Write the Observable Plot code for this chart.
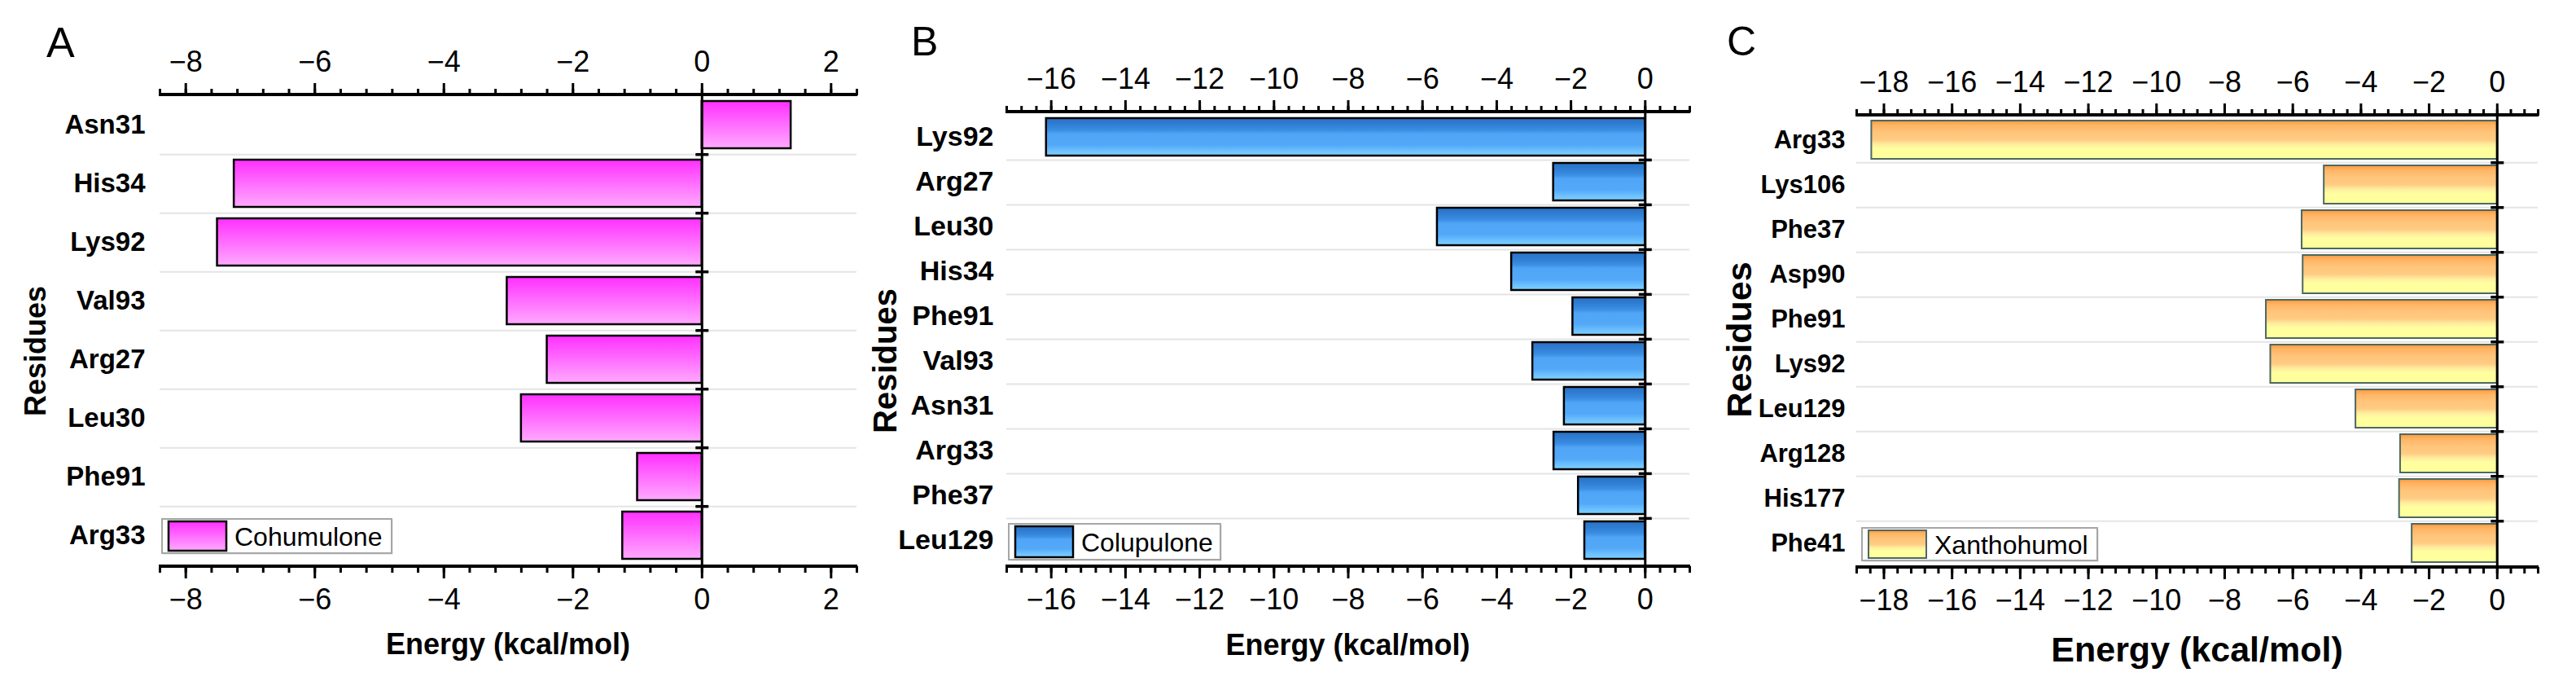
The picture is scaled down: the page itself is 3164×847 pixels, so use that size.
<!DOCTYPE html>
<html><head><meta charset="utf-8">
<script src="https://cdn.jsdelivr.net/npm/d3@7"></script>
<script src="https://cdn.jsdelivr.net/npm/@observablehq/plot@0.6"></script>
<style>
body{margin:0;background:#fff;}
#wrap{position:relative;width:3164px;height:847px;background:#fff;}
#wrap svg{position:absolute;top:0;overflow:visible;max-width:none;}
</style></head><body><div id="wrap"></div>
<script>
// ---- data ----
const residuesA = ["Asn31","His34","Lys92","Val93","Arg27","Leu30","Phe91","Arg33"];
const energyA   = [1.38,-7.25,-7.51,-3.02,-2.40,-2.80,-1.00,-1.23];
const residuesB = ["Lys92","Arg27","Leu30","His34","Phe91","Val93","Asn31","Arg33","Phe37","Leu129"];
const energyB   = [-16.13,-2.47,-5.60,-3.60,-1.95,-3.03,-2.18,-2.46,-1.80,-1.63];
const residuesC = ["Arg33","Lys106","Phe37","Asp90","Phe91","Lys92","Leu129","Arg128","His177","Phe41"];
const energyC   = [-18.36,-5.08,-5.73,-5.70,-6.78,-6.65,-4.15,-2.84,-2.87,-2.50];
const ticksA = [-8,-6,-4,-2,0,2];
const ticksB = [-16,-14,-12,-10,-8,-6,-4,-2,0];
const ticksC = [-18,-16,-14,-12,-10,-8,-6,-4,-2,0];
const domainA = [-8.4, 2.4];
const domainB = [-17.2, 1.2];
const domainC = [-18.8, 1.2];
const seriesNames = ["Cohumulone","Colupulone","Xanthohumol"];
const panelLetters = ["A","B","C"];
const xTitle = "Energy (kcal/mol)";
const yTitle = "Residues";

const NS = "http://www.w3.org/2000/svg";
const FONT = "'Liberation Sans', Arial, Helvetica, sans-serif";
function el(tag, attrs, text){
  const e = document.createElementNS(NS, tag);
  for (const k in attrs) e.setAttribute(k, attrs[k]);
  if (text != null) e.textContent = text;
  return e;
}
const hline = {draw(ctx, size){ const r = Math.sqrt(size/Math.PI); ctx.moveTo(-r,0); ctx.lineTo(r,0); }};

const panels = [
  {id:"gradA", residues:residuesA, energy:energyA, ticks:ticksA, domain:domainA, name:seriesNames[0], letter:panelLetters[0],
   left:0, width:1060, ml:196, mr:8, mt:116, mb:152, pad:0.19,
   stops:[[0,"#ff30ff"],[1,"#ffaaff"]], stroke:"#000", sw:2.5,
   tickFont:36, rowFont:33, xFont:36, yFont:36, letterFont:52,
   letterX:57, letterY:70, yX:43, yY:431, xDy:95, rowPad:18,
   legend:{dx:3, gap:16, w:282, h:42}},
  {id:"gradB", residues:residuesB, energy:energyB, ticks:ticksB, domain:domainB, name:seriesNames[1], letter:panelLetters[1],
   left:1060, width:1030, ml:176, mr:15, mt:137, mb:152, pad:0.16,
   stops:[[0,"#2a72c4"],[0.14,"#2e7bd0"],[0.32,"#3a8ee3"],[0.42,"#50a5f6"],[0.72,"#53a9f8"],[0.86,"#6abfff"],[1,"#80d0ff"]],
   stroke:"#000", sw:2.5,
   tickFont:36, rowFont:34, xFont:36, yFont:40, letterFont:50,
   letterX:59, letterY:68, yX:27, yY:443, xDy:96, rowPad:16,
   legend:{dx:3, gap:8, w:260, h:44}},
  {id:"gradC", residues:residuesC, energy:energyC, ticks:ticksC, domain:domainC, name:seriesNames[2], letter:panelLetters[2],
   left:2090, width:1074, ml:190, mr:47, mt:141, mb:151, pad:0.15,
   stops:[[0,"#ff983a"],[0.12,"#ffb464"],[0.3,"#ffc47a"],[0.5,"#ffcb82"],[0.62,"#ffeda0"],[0.74,"#ffff9e"],[1,"#ffff9c"]],
   stroke:"#4d6861", sw:2,
   tickFont:36, rowFont:31, xFont:43, yFont:43, letterFont:50,
   letterX:31, letterY:68, yX:46, yY:417, xDy:101, rowPad:14,
   legend:{dx:7, gap:8, w:289, h:40}}
];

function panel(cfg){
  const data = cfg.residues.map((r,i) => ({residue:r, energy:cfg.energy[i]}));
  const n = cfg.residues.length;
  const H = 847;
  const step = (H - cfg.mt - cfg.mb) / n;
  const inner = cfg.residues.slice(0, -1);
  const minor = d3.range(Math.round(cfg.domain[0]*10), Math.round(cfg.domain[1]*10)+1, 4).map(v => v/10);

  const defs = () => {
    const d = el("defs", {});
    const g = el("linearGradient", {id:cfg.id, x1:0, y1:0, x2:0, y2:1});
    for (const [o,c] of cfg.stops) g.appendChild(el("stop", {offset:o, "stop-color":c}));
    d.appendChild(g);
    return d;
  };
  const axisLines = (index, scales, values, dims) => {
    const g = el("g", {stroke:"#000", "stroke-width":4});
    const x1 = dims.marginLeft - 1, x2 = dims.width - dims.marginRight + 1;
    for (const y of [dims.marginTop, dims.height - dims.marginBottom])
      g.appendChild(el("line", {x1, x2, y1:y, y2:y}));
    return g;
  };
  const legend = (index, scales, values, dims) => {
    const L = cfg.legend;
    const g = el("g", {"text-anchor":"start"});
    const bx = dims.marginLeft + L.dx, by = dims.height - dims.marginBottom - L.gap - L.h;
    g.appendChild(el("rect", {x:bx+1.5, y:by+1.5, width:L.w, height:L.h, fill:"#d8d8d8"}));
    g.appendChild(el("rect", {x:bx, y:by, width:L.w, height:L.h, fill:"#fff", stroke:"#a6a6a6", "stroke-width":2}));
    g.appendChild(el("rect", {x:bx+8, y:by+3, width:71, height:L.h-6, fill:`url(#${cfg.id})`, stroke:cfg.stroke, "stroke-width":cfg.sw}));
    g.appendChild(el("text", {x:bx+89, y:by+L.h/2, dy:"0.36em", "text-anchor":"start", "font-size":32, "font-family":FONT, fill:"#000"}, cfg.name));
    return g;
  };
  const titles = (index, scales, values, dims) => {
    const g = el("g", {fill:"#000", "font-family":FONT});
    g.appendChild(el("text", {x:cfg.letterX, y:cfg.letterY, "text-anchor":"start", "font-size":cfg.letterFont}, cfg.letter));
    g.appendChild(el("text", {transform:`translate(${cfg.yX},${cfg.yY}) rotate(-90)`, dy:"0.36em", "text-anchor":"middle",
      "font-size":cfg.yFont, "font-weight":"bold"}, yTitle));
    const cx = (dims.marginLeft + dims.width - dims.marginRight) / 2;
    g.appendChild(el("text", {x:cx, y:dims.height - dims.marginBottom + cfg.xDy, dy:"0.36em", "text-anchor":"middle",
      "font-size":cfg.xFont, "font-weight":"bold"}, xTitle));
    return g;
  };

  return Plot.plot({
    width: cfg.width, height: H,
    marginLeft: cfg.ml, marginRight: cfg.mr, marginTop: cfg.mt, marginBottom: cfg.mb,
    style: {fontFamily: FONT, background: "transparent", color: "#000"},
    x: {domain: cfg.domain, label: null},
    y: {domain: cfg.residues, paddingInner: cfg.pad, paddingOuter: cfg.pad/2, label: null},
    marks: [
      defs,
      Plot.ruleY(inner, {y: d => d, dy: step/2, stroke: "#e4e4e4", strokeWidth: 2}),
      Plot.barX(data, {x: "energy", y: "residue", fill: `url(#${cfg.id})`, stroke: cfg.stroke, strokeWidth: cfg.sw}),
      Plot.ruleX([0], {stroke: "#000", strokeWidth: 3}),
      Plot.dot(inner, {x: () => 0, y: d => d, dy: step/2, symbol: hline, r: 8, stroke: "#000", strokeWidth: 3.5}),
      Plot.axisX(minor, {anchor: "top", tickSize: 8, strokeWidth: 3, tickFormat: () => "", label: null}),
      Plot.axisX(minor, {anchor: "bottom", tickSize: 8, strokeWidth: 3, tickFormat: () => "", label: null}),
      Plot.axisX(cfg.ticks, {anchor: "top", tickSize: 15, tickPadding: 14, strokeWidth: 3, fontSize: cfg.tickFont, tickFormat: d3.format("d"), label: null}),
      Plot.axisX(cfg.ticks, {anchor: "bottom", tickSize: 15, tickPadding: 12, strokeWidth: 3, fontSize: cfg.tickFont, tickFormat: d3.format("d"), label: null}),
      Plot.axisY({anchor: "left", tickSize: 0, tickPadding: cfg.rowPad, fontSize: cfg.rowFont, fontWeight: "bold", label: null}),
      axisLines,
      legend,
      titles
    ]
  });
}

const wrap = document.getElementById("wrap");
for (const cfg of panels){
  const svg = panel(cfg);
  svg.style.left = cfg.left + "px";
  wrap.appendChild(svg);
}
</script></body></html>
